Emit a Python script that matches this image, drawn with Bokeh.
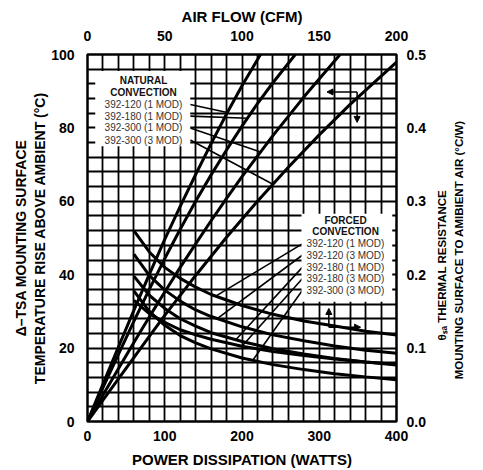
import numpy as np
from bokeh.plotting import figure
from bokeh.layouts import row
from bokeh.models import (Range1d, LinearAxis, FixedTicker, PrintfTickFormatter,
                          BoxAnnotation, Label, Arrow, NormalHead)
from bokeh.embed import file_html
from bokeh.resources import INLINE

# ---------------- data ----------------
# Natural convection: temperature rise (degC) vs power dissipation (W)
nat_labels = ["392-120 (1 MOD)", "392-180 (1 MOD)", "392-300 (1 MOD)", "392-300 (3 MOD)"]
n1_w = [0, 20, 40, 60, 80, 100, 120, 140, 160, 180, 200, 224]
n1_t = [0, 10.2, 20.3, 30.3, 40.1, 49.6, 58.6, 67.3, 75.7, 83.8, 91.5, 100]
n2_w = [0, 20, 40, 60, 80, 100, 120, 140, 160, 180, 200, 220, 240, 269]
n2_t = [0, 9.2, 18.3, 27.3, 36.0, 44.4, 52.4, 60.0, 67.2, 74.0, 80.5, 86.6, 92.3, 100]
n3_w = [0, 20, 40, 60, 80, 100, 120, 140, 160, 180, 200, 240, 280, 327]
n3_t = [0, 7.2, 14.4, 21.5, 28.5, 35.3, 42.0, 48.4, 54.7, 60.8, 66.7, 77.9, 88.4, 100]
n4_w = [0, 20, 40, 60, 80, 100, 140, 180, 220, 260, 300, 340, 400]
n4_t = [0, 5.8, 11.6, 17.4, 23.2, 28.9, 39.8, 50.2, 60.0, 69.3, 78.1, 86.4, 97.9]

# Forced convection: thermal resistance (degC/W) vs air flow (CFM)
forced_labels = ["392-120 (1 MOD)", "392-120 (3 MOD)", "392-180 (1 MOD)",
                 "392-180 (3 MOD)", "392-300 (3 MOD)"]
f_cfm = [30, 40, 50, 60, 70, 80, 100, 120, 140, 160, 180, 200]
f1_th = [0.260, 0.231, 0.210, 0.195, 0.183, 0.173, 0.158, 0.146, 0.137, 0.130, 0.123, 0.118]
f2_th = [0.228, 0.199, 0.179, 0.164, 0.152, 0.143, 0.129, 0.118, 0.110, 0.103, 0.097, 0.093]
f3_th = [0.198, 0.172, 0.154, 0.140, 0.130, 0.121, 0.109, 0.099, 0.092, 0.086, 0.081, 0.077]
f4_th = [0.165, 0.147, 0.135, 0.125, 0.118, 0.112, 0.1025, 0.0955, 0.090, 0.085, 0.081, 0.078]
f5_th = [0.178, 0.150, 0.131, 0.117, 0.107, 0.099, 0.0865, 0.0775, 0.0707, 0.0652, 0.0608, 0.057]

bottom_ticks = [0, 100, 200, 300, 400]
top_ticks = [0, 50, 100, 150, 200]
left_ticks = [0, 20, 40, 60, 80, 100]
right_ticks = [0.0, 0.1, 0.2, 0.3, 0.4, 0.5]

title_bottom = "POWER DISSIPATION (WATTS)"
title_top = "AIR FLOW (CFM)"
title_left = "\u0394\u2013TSA MOUNTING SURFACE\nTEMPERATURE RISE ABOVE AMBIENT (\u00b0C)"
title_right = ["\u03b8\u209b\u2090 THERMAL RESISTANCE",
               "MOUNTING SURFACE TO AMIBIENT AIR (\u00b0C/W)"]

FONT = "Liberation Sans"

p = figure(width=430, height=470, x_range=Range1d(0, 400), y_range=Range1d(0, 100),
           output_backend="svg", toolbar_location=None,
           min_border_left=87, min_border_right=34, min_border_top=54, min_border_bottom=44)
p.extra_x_ranges = {"cfm": Range1d(0, 200)}
p.extra_y_ranges = {"theta": Range1d(0, 0.5)}

top_ax = LinearAxis(x_range_name="cfm")
right_ax = LinearAxis(y_range_name="theta")
p.add_layout(top_ax, "above")
p.add_layout(right_ax, "right")
bottom_ax = p.below[0]
left_ax = p.left[0]

bottom_ax.ticker = FixedTicker(ticks=bottom_ticks)
top_ax.ticker = FixedTicker(ticks=top_ticks)
left_ax.ticker = FixedTicker(ticks=left_ticks)
right_ax.ticker = FixedTicker(ticks=right_ticks)
right_ax.formatter = PrintfTickFormatter(format="%.1f")

bottom_ax.axis_label = title_bottom
top_ax.axis_label = title_top
left_ax.axis_label = title_left

for ax in [bottom_ax, top_ax, left_ax, right_ax]:
    ax.axis_line_color = None
    ax.major_tick_line_color = None
    ax.minor_tick_line_color = None
    ax.major_label_text_font = FONT
    ax.major_label_text_font_style = "bold"
    ax.major_label_text_font_size = "14px"
    ax.major_label_text_color = "black"
    ax.axis_label_text_font = FONT
    ax.axis_label_text_font_style = "bold"
    ax.axis_label_text_color = "black"

bottom_ax.axis_label_text_font_size = "15px"
top_ax.axis_label_text_font_size = "15px"
left_ax.axis_label_text_font_size = "14px"
bottom_ax.major_label_standoff = 3
bottom_ax.axis_label_standoff = 7
top_ax.major_label_standoff = 8
top_ax.axis_label_standoff = 3
left_ax.major_label_standoff = 7
left_ax.axis_label_standoff = 0
right_ax.major_label_standoff = 4

p.xgrid.ticker = FixedTicker(ticks=list(range(0, 401, 20)))
p.ygrid.ticker = FixedTicker(ticks=list(range(0, 101, 4)))
for g in (p.xgrid, p.ygrid):
    g.grid_line_color = "black"
    g.grid_line_width = 1.8
    g.grid_line_alpha = 1.0

p.outline_line_color = "black"
p.outline_line_width = 2.5
p.background_fill_color = "white"
p.border_fill_color = "white"

# natural convection curves
nat_curves = [(n1_w, n1_t), (n2_w, n2_t), (n3_w, n3_t), (n4_w, n4_t)]
for w, t in nat_curves:
    p.line(w, t, line_color="black", line_width=3)

# forced convection curves
forced = [f1_th, f2_th, f3_th, f4_th, f5_th]
for th in forced:
    p.line(f_cfm, th, line_color="black", line_width=3,
           x_range_name="cfm", y_range_name="theta")

# ---------------- legend boxes and leaders ----------------
nat_rows = [86.4, 83.2, 80.0, 76.7]
nat_end_w = [181, 207, 224, 240]
for r, (w, t), ew in zip(nat_rows, nat_curves, nat_end_w):
    p.segment(x0=[133], y0=[r], x1=[ew], y1=[float(np.interp(ew, w, t))],
              line_color="black", line_width=1.6)

forced_rows = [48.4, 45.3, 42.0, 38.9, 35.7]
forced_end_cfm = [83, 84, 96, 100, 107]
for r, th, ec in zip(forced_rows, forced, forced_end_cfm):
    p.segment(x0=[139], y0=[r / 200.0], x1=[ec], y1=[float(np.interp(ec, f_cfm, th))],
              line_color="black", line_width=1.6,
              x_range_name="cfm", y_range_name="theta")

p.add_layout(BoxAnnotation(left=10, right=133, bottom=75, top=95.5,
                           fill_color="white", fill_alpha=1.0, line_color=None))
p.add_layout(BoxAnnotation(left=277, right=394.5, bottom=32.6, top=56.6,
                           fill_color="white", fill_alpha=1.0, line_color=None))

def lab(fig, x, y, text, bold=False, size="10px", angle=0.0, color=None):
    fig.add_layout(Label(x=x, y=y, text=text, text_font=FONT, text_font_size=size,
                         text_font_style="bold" if bold else "normal",
                         text_color=color or ("#111111" if bold else "#333333"),
                         text_align="center", text_baseline="middle", angle=angle))

lab(p, 72.5, 92.8, "NATURAL", True)
lab(p, 72.5, 89.6, "CONVECTION", True)
for r, txt in zip(nat_rows, nat_labels):
    lab(p, 72.5, r, txt)

lab(p, 334, 54.8, "FORCED", True)
lab(p, 334, 51.7, "CONVECTION", True)
for r, txt in zip(forced_rows, forced_labels):
    lab(p, 334, r, txt)

# reading-direction arrows
def arrow(x0, y0, x1, y1):
    p.add_layout(Arrow(end=NormalHead(size=6, fill_color="black", line_color="black"),
                       x_start=x0, y_start=y0, x_end=x1, y_end=y1,
                       line_color="black", line_width=1.5))

arrow(349, 89.8, 310, 89.8)
arrow(349, 89.8, 349, 81.5)
arrow(312.4, 25.7, 353.5, 25.7)
arrow(312.4, 25.7, 312.4, 30.8)

# ---------------- right-hand title strip (reads bottom to top) ----------------
q = figure(width=53, height=470, x_range=Range1d(0, 53), y_range=Range1d(0, 470),
           output_backend="svg", toolbar_location=None,
           x_axis_location=None, y_axis_location=None,
           min_border=0, min_border_left=0, min_border_right=0,
           min_border_top=0, min_border_bottom=0)
q.grid.visible = False
q.outline_line_color = None
q.background_fill_color = "white"
q.border_fill_color = "white"
lab(q, 11, 200, title_right[0], True, "11.5px", np.pi / 2, "black")
lab(q, 28, 220, title_right[1], True, "11.5px", np.pi / 2, "black")

layout = row(p, q, spacing=0)
open("out.html", "w").write(file_html(layout, INLINE))
